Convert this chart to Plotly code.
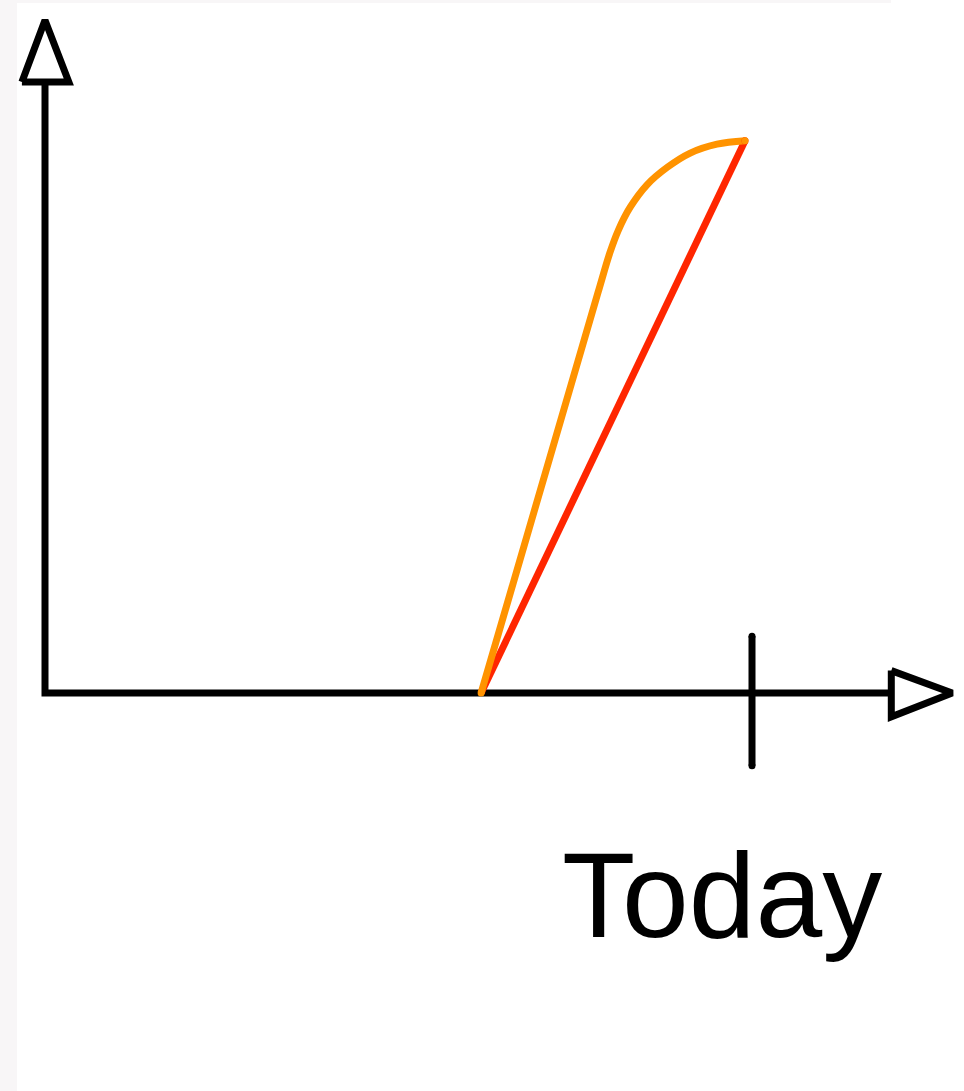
"""Sketch: two growth paths that start late and end just before today."""

import plotly.graph_objects as go

# Data, in axis units (origin = corner of the two axes)
red_x = [6.23, 10.0]
red_y = [0.0, 7.89]

orange_x = [6.23, 7.15, 7.90, 8.07, 8.19, 8.36, 8.60, 8.89, 9.21, 9.60, 10.0]
orange_y = [0.0, 3.15, 5.72, 6.29, 6.61, 6.94, 7.26, 7.51, 7.71, 7.84, 7.89]

today_x = 10.1
today_label = "Today"

W, H = 964, 1091
PX = 70.0          # pixels per axis unit
OX, OY = 45, 693   # pixel position of origin

AXIS_COLOR = "#000000"
AXIS_W = 7
LINE_W = 7

fig = go.Figure()

# Axis lines (L-shape)
fig.add_trace(go.Scatter(
    x=[0, 0, 12.09], y=[8.73, 0, 0],
    mode="lines", line=dict(color=AXIS_COLOR, width=AXIS_W),
    hoverinfo="skip", showlegend=False
))

# Open arrow heads
fig.add_trace(go.Scatter(
    x=[-0.33, 0.34, 0.0, -0.33], y=[8.73, 8.73, 9.61, 8.73],
    mode="lines", fill="toself", fillcolor="white",
    line=dict(color=AXIS_COLOR, width=AXIS_W),
    hoverinfo="skip", showlegend=False
))
fig.add_trace(go.Scatter(
    x=[12.09, 12.09, 12.96, 12.09], y=[0.32, -0.34, 0.0, 0.32],
    mode="lines", fill="toself", fillcolor="white",
    line=dict(color=AXIS_COLOR, width=AXIS_W),
    hoverinfo="skip", showlegend=False
))

# "Today" tick (markers give the round caps)
fig.add_trace(go.Scatter(
    x=[today_x, today_x], y=[0.81, -1.04],
    mode="lines+markers", line=dict(color=AXIS_COLOR, width=AXIS_W),
    marker=dict(color=AXIS_COLOR, size=AXIS_W, line=dict(width=0)),
    hoverinfo="skip", showlegend=False
))

# Series
fig.add_trace(go.Scatter(
    x=red_x, y=red_y, mode="lines",
    line=dict(color="#FF2600", width=LINE_W),
    hoverinfo="skip", showlegend=False
))
fig.add_trace(go.Scatter(
    x=orange_x, y=orange_y, mode="lines",
    line=dict(color="#FF9300", width=LINE_W, shape="spline", smoothing=1.0),
    hoverinfo="skip", showlegend=False
))
# round ends of the two paths
fig.add_trace(go.Scatter(
    x=[red_x[-1], orange_x[0], orange_x[-1]], y=[red_y[-1], orange_y[0], orange_y[-1]],
    mode="markers",
    marker=dict(color=["#FF2600", "#FF9300", "#FF9300"], size=LINE_W, line=dict(width=0)),
    hoverinfo="skip", showlegend=False
))

fig.add_annotation(
    x=9.67, y=-2.89, xref="x", yref="y",
    text=today_label, showarrow=False,
    xanchor="center", yanchor="middle",
    font=dict(family="Liberation Sans, Arial, sans-serif", size=120, color="#000000")
)

# light grey strips at the left and top edge
fig.add_shape(type="rect", xref="paper", yref="paper",
              x0=0, x1=17 / W, y0=0, y1=1,
              fillcolor="#F8F6F7", line=dict(width=0), layer="below")
fig.add_shape(type="rect", xref="paper", yref="paper",
              x0=0, x1=891 / W, y0=1 - 3 / H, y1=1,
              fillcolor="#F8F6F7", line=dict(width=0), layer="below")

fig.update_layout(
    width=W, height=H,
    margin=dict(l=0, r=0, t=0, b=0),
    paper_bgcolor="white", plot_bgcolor="rgba(0,0,0,0)",
    xaxis=dict(range=[-OX / PX, (W - OX) / PX], visible=False, fixedrange=True),
    yaxis=dict(range=[(OY - H) / PX, OY / PX], visible=False, fixedrange=True),
    showlegend=False,
)

fig.write_html("out.html", config={"displayModeBar": False},
               post_script="document.body.style.margin='0';")
